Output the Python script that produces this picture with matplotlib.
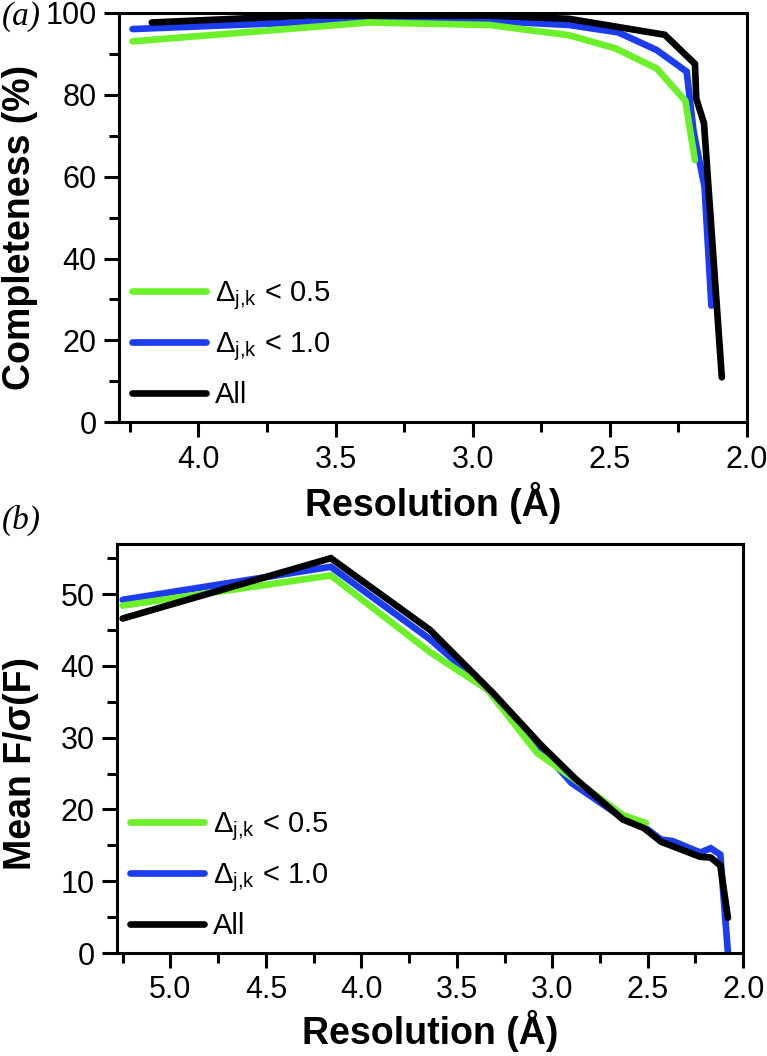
import matplotlib
matplotlib.use("Agg")
import matplotlib.pyplot as plt
from matplotlib.ticker import MultipleLocator

plt.rcParams['font.family'] = ['Liberation Sans', 'DejaVu Sans']
plt.rcParams['mathtext.fontset'] = 'custom'
plt.rcParams['mathtext.rm'] = 'Liberation Sans'
plt.rcParams['mathtext.it'] = 'Liberation Sans'
plt.rcParams['mathtext.bf'] = 'Liberation Sans:bold'

# ---- Panel (a): completeness ----
res_a_green = [4.24, 3.38, 2.94, 2.65, 2.48, 2.33, 2.225, 2.19]
comp_green = [93.0, 97.6, 97.0, 94.5, 91.3, 86.4, 78.5, 64.0]
res_a_blue = [4.24, 3.38, 2.94, 2.65, 2.47, 2.33, 2.22, 2.195, 2.155, 2.13]
comp_blue = [96.0, 98.3, 98.0, 97.0, 95.2, 90.9, 85.6, 71.0, 57.5, 28.5]
res_a_all = [4.17, 3.60, 2.94, 2.65, 2.47, 2.30, 2.19, 2.185, 2.157, 2.124, 2.092]
comp_all = [97.6, 99.3, 99.3, 98.5, 96.5, 94.6, 87.5, 79.0, 73.0, 41.5, 11.0]

# ---- Panel (b): mean F/sigma(F) ----
res_b_green = [5.25, 4.16, 3.64, 3.34, 3.08, 2.90, 2.63, 2.51]
fs_green = [48.4, 52.6, 41.9, 36.7, 27.9, 24.5, 19.2, 18.1]
res_b_blue = [5.25, 4.16, 3.64, 3.31, 3.06, 2.90, 2.63, 2.52, 2.43, 2.37, 2.225, 2.17, 2.12, 2.08]
fs_blue = [49.2, 53.8, 43.7, 36.0, 28.5, 23.7, 18.8, 17.6, 15.8, 15.6, 14.0, 14.6, 13.7, 0.0]
res_b_all = [5.25, 4.16, 3.64, 3.31, 3.06, 2.88, 2.63, 2.52, 2.43, 2.225, 2.17, 2.12, 2.08]
fs_all = [46.6, 55.0, 45.0, 36.2, 29.0, 24.3, 18.6, 17.4, 15.5, 13.4, 13.3, 12.2, 4.9]

labels = [r'$\Delta_{\mathrm{j{,}k}}$ < 0.5', r'$\Delta_{\mathrm{j{,}k}}$ < 1.0', 'All']
colors = ['#6CF02A', '#1C3CF0', '#000000']

fig = plt.figure(figsize=(7.67, 10.56), dpi=100)
ax1 = fig.add_axes([0.155, 0.600, 0.819, 0.388])
ax2 = fig.add_axes([0.1525, 0.0975, 0.8165, 0.3875])

lw = 4.8
for ax, data in [(ax1, [(res_a_green, comp_green), (res_a_blue, comp_blue), (res_a_all, comp_all)]),
                 (ax2, [(res_b_green, fs_green), (res_b_blue, fs_blue), (res_b_all, fs_all)])]:
    for (x, y), c, lab, z in zip(data, colors, labels, [3, 2, 4]):
        ax.plot(x, y, color=c, lw=lw, label=lab, zorder=z,
                solid_capstyle='round', solid_joinstyle='miter')
    for s in ax.spines.values():
        s.set_linewidth(2.2)
    ax.tick_params(which='major', length=11, width=2.2, labelsize=22, pad=5)
    ax.tick_params(which='minor', length=7, width=2.2)
    ax.tick_params(top=False, right=False, which='both')
    leg = ax.legend(loc='lower left', bbox_to_anchor=(0.0, 0.0), frameon=False,
                    fontsize=21, handlelength=2.55, handletextpad=0.3,
                    labelspacing=0.62, borderpad=0.25, borderaxespad=0.2)

ax1.set_xlim(4.29, 2.0)
ax1.set_ylim(0, 100)
ax1.xaxis.set_major_locator(MultipleLocator(0.5))
ax1.xaxis.set_minor_locator(MultipleLocator(0.25))
ax1.yaxis.set_major_locator(MultipleLocator(20))
ax1.yaxis.set_minor_locator(MultipleLocator(10))
ax1.xaxis.set_major_formatter(matplotlib.ticker.FormatStrFormatter('%.1f'))

ax2.set_xlim(5.28, 2.0)
ax2.set_ylim(0, 57)
ax2.xaxis.set_major_locator(MultipleLocator(0.5))
ax2.xaxis.set_minor_locator(MultipleLocator(0.25))
ax2.yaxis.set_major_locator(MultipleLocator(10))
ax2.yaxis.set_minor_locator(MultipleLocator(5))
ax2.xaxis.set_major_formatter(matplotlib.ticker.FormatStrFormatter('%.1f'))

ax1.set_xlabel('Resolution (Å)', fontsize=27, fontweight='bold', labelpad=5)
ax2.set_xlabel('Resolution (Å)', fontsize=27, fontweight='bold', labelpad=3)
ax1.set_ylabel('Completeness (%)', fontsize=27, fontweight='bold')
ax2.set_ylabel('Mean F/σ(F)', fontsize=27, fontweight='bold')
ax1.yaxis.set_label_coords(-0.128, 0.475)
ax2.yaxis.set_label_coords(-0.125, 0.463)

fig.text(0.003, 0.984, '(a)', fontsize=24, family='Liberation Serif', style='italic', va='center', ha='left')
fig.text(0.003, 0.507, '(b)', fontsize=24, family='Liberation Serif', style='italic', va='center', ha='left')

fig.savefig('out.png', dpi=100)
